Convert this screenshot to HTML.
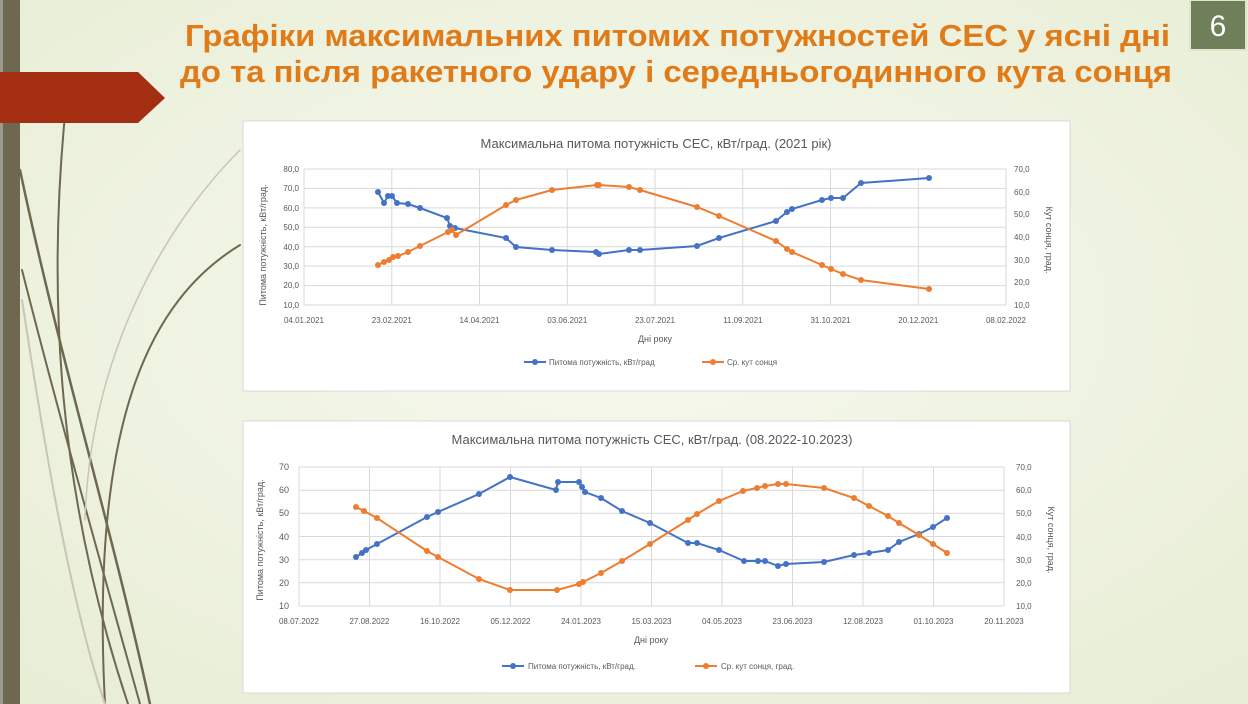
<!DOCTYPE html>
<html><head><meta charset="utf-8"><style>
html,body{margin:0;padding:0;width:1248px;height:704px;overflow:hidden}
svg{display:block}
text{font-family:"Liberation Sans","DejaVu Sans",sans-serif}
</style></head><body>
<svg width="1248" height="704" viewBox="0 0 1248 704" xmlns="http://www.w3.org/2000/svg">
<defs>
<radialGradient id="bg" cx="0.5" cy="0.45" r="0.8">
<stop offset="0" stop-color="#f7f9ee"/><stop offset="1" stop-color="#e6ecd3"/>
</radialGradient>
</defs>
<rect width="1248" height="704" fill="url(#bg)"/>
<rect x="0" y="0" width="3" height="704" fill="#9a9a90"/>
<rect x="3" y="0" width="17" height="704" fill="#6e6850"/>
<g fill="none" stroke-linecap="round">
<path d="M20 170 C60 360 110 520 150 704" stroke="#6e6850" stroke-width="2.5"/>
<path d="M22 270 C60 420 100 560 140 704" stroke="#6e6850" stroke-width="2"/>
<path d="M67 95 C45 300 60 500 128 704" stroke="#6e6850" stroke-width="2"/>
<path d="M240 245 C150 300 90 420 105 704" stroke="#6e6850" stroke-width="2"/>
<path d="M240 150 C160 230 90 360 85 520" stroke="#c8c6b4" stroke-width="1.5"/>
<path d="M22 300 C45 450 70 600 105 704" stroke="#c8c6b4" stroke-width="2"/>
</g>
<path d="M0 72 H138 L165 98 L138 123 H0 Z" fill="#a32e12"/>
<rect x="1190" y="0" width="56" height="50" fill="#6f7f5a" stroke="#dfe6cc" stroke-width="2"/>
<text x="1218" y="36" font-size="30" fill="#fff" text-anchor="middle">6</text>
<text x="185" y="46" font-size="31" font-weight="bold" fill="#e07b1a" textLength="985" lengthAdjust="spacingAndGlyphs">Графіки максимальних питомих потужностей СЕС у ясні дні</text>
<text x="180" y="82" font-size="31" font-weight="bold" fill="#e07b1a" textLength="992" lengthAdjust="spacingAndGlyphs">до та після ракетного удару і середньогодинного кута сонця</text>

<!-- TOP CHART -->
<rect x="243" y="121" width="827" height="270" fill="#fff" stroke="#d8d8d8"/>
<text x="656" y="148" font-size="13" fill="#595959" text-anchor="middle">Максимальна питома потужність СЕС, кВт/град. (2021 рік)</text>
<g stroke="#d9d9d9" stroke-width="1">
<line x1="304" y1="169" x2="1006" y2="169"/><line x1="304" y1="188.4" x2="1006" y2="188.4"/><line x1="304" y1="207.9" x2="1006" y2="207.9"/><line x1="304" y1="227.3" x2="1006" y2="227.3"/><line x1="304" y1="246.7" x2="1006" y2="246.7"/><line x1="304" y1="266.1" x2="1006" y2="266.1"/><line x1="304" y1="285.6" x2="1006" y2="285.6"/><line x1="304" y1="305" x2="1006" y2="305"/>
<line x1="304" y1="169" x2="304" y2="305"/><line x1="391.8" y1="169" x2="391.8" y2="305"/><line x1="479.5" y1="169" x2="479.5" y2="305"/><line x1="567.3" y1="169" x2="567.3" y2="305"/><line x1="655" y1="169" x2="655" y2="305"/><line x1="742.8" y1="169" x2="742.8" y2="305"/><line x1="830.5" y1="169" x2="830.5" y2="305"/><line x1="918.3" y1="169" x2="918.3" y2="305"/><line x1="1006" y1="169" x2="1006" y2="305"/>
</g>
<g font-size="8" fill="#595959" text-anchor="end">
<text x="299" y="172">80,0</text><text x="299" y="191">70,0</text><text x="299" y="211">60,0</text><text x="299" y="230">50,0</text><text x="299" y="250">40,0</text><text x="299" y="269">30,0</text><text x="299" y="288">20,0</text><text x="299" y="308">10,0</text>
</g>
<g font-size="8" fill="#595959">
<text x="1014" y="172">70,0</text><text x="1014" y="195">60,0</text><text x="1014" y="217">50,0</text><text x="1014" y="240">40,0</text><text x="1014" y="263">30,0</text><text x="1014" y="285">20,0</text><text x="1014" y="308">10,0</text>
</g>
<g font-size="8" fill="#595959" text-anchor="middle">
<text x="304" y="323">04.01.2021</text><text x="391.8" y="323">23.02.2021</text><text x="479.5" y="323">14.04.2021</text><text x="567.3" y="323">03.06.2021</text><text x="655" y="323">23.07.2021</text><text x="742.8" y="323">11.09.2021</text><text x="830.5" y="323">31.10.2021</text><text x="918.3" y="323">20.12.2021</text><text x="1006" y="323">08.02.2022</text>
<text x="655" y="342" font-size="9">Дні року</text>
</g>
<text transform="translate(266,245) rotate(-90)" font-size="9" fill="#595959" text-anchor="middle">Питома потужність, кВт/град.</text>
<text transform="translate(1046,240) rotate(90)" font-size="9" fill="#595959" text-anchor="middle">Кут сонця, град.</text>
<polyline fill="none" stroke="#4472c4" stroke-width="2" points="378,192 384,203 388,196 392,196 397,203 408,204 420,208 447,218 450,226 455,228 506,238 516,247 552,250 596,252 599,254 629,250 640,250 697,246 719,238 776,221 787,212 792,209 822,200 831,198 843,198 861,183 929,178"/>
<g fill="#4472c4"><circle cx="378" cy="192" r="3"/><circle cx="384" cy="203" r="3"/><circle cx="388" cy="196" r="3"/><circle cx="392" cy="196" r="3"/><circle cx="397" cy="203" r="3"/><circle cx="408" cy="204" r="3"/><circle cx="420" cy="208" r="3"/><circle cx="447" cy="218" r="3"/><circle cx="450" cy="226" r="3"/><circle cx="455" cy="228" r="3"/><circle cx="506" cy="238" r="3"/><circle cx="516" cy="247" r="3"/><circle cx="552" cy="250" r="3"/><circle cx="596" cy="252" r="3"/><circle cx="599" cy="254" r="3"/><circle cx="629" cy="250" r="3"/><circle cx="640" cy="250" r="3"/><circle cx="697" cy="246" r="3"/><circle cx="719" cy="238" r="3"/><circle cx="776" cy="221" r="3"/><circle cx="787" cy="212" r="3"/><circle cx="792" cy="209" r="3"/><circle cx="822" cy="200" r="3"/><circle cx="831" cy="198" r="3"/><circle cx="843" cy="198" r="3"/><circle cx="861" cy="183" r="3"/><circle cx="929" cy="178" r="3"/></g>
<polyline fill="none" stroke="#ed7d31" stroke-width="2" points="378,265 384,262 389,260 393,257 398,256 408,252 420,246 448,232 452,230 456,235 506,205 516,200 552,190 597,185 599,185 629,187 640,190 697,207 719,216 776,241 787,249 792,252 822,265 831,269 843,274 861,280 929,289"/>
<g fill="#ed7d31"><circle cx="378" cy="265" r="3"/><circle cx="384" cy="262" r="3"/><circle cx="389" cy="260" r="3"/><circle cx="393" cy="257" r="3"/><circle cx="398" cy="256" r="3"/><circle cx="408" cy="252" r="3"/><circle cx="420" cy="246" r="3"/><circle cx="448" cy="232" r="3"/><circle cx="452" cy="230" r="3"/><circle cx="456" cy="235" r="3"/><circle cx="506" cy="205" r="3"/><circle cx="516" cy="200" r="3"/><circle cx="552" cy="190" r="3"/><circle cx="597" cy="185" r="3"/><circle cx="599" cy="185" r="3"/><circle cx="629" cy="187" r="3"/><circle cx="640" cy="190" r="3"/><circle cx="697" cy="207" r="3"/><circle cx="719" cy="216" r="3"/><circle cx="776" cy="241" r="3"/><circle cx="787" cy="249" r="3"/><circle cx="792" cy="252" r="3"/><circle cx="822" cy="265" r="3"/><circle cx="831" cy="269" r="3"/><circle cx="843" cy="274" r="3"/><circle cx="861" cy="280" r="3"/><circle cx="929" cy="289" r="3"/></g>
<line x1="524" y1="362" x2="546" y2="362" stroke="#4472c4" stroke-width="2"/><circle cx="535" cy="362" r="3" fill="#4472c4"/>
<text x="549" y="365" font-size="8" fill="#595959">Питома потужність, кВт/град</text>
<line x1="702" y1="362" x2="724" y2="362" stroke="#ed7d31" stroke-width="2"/><circle cx="713" cy="362" r="3" fill="#ed7d31"/>
<text x="727" y="365" font-size="8" fill="#595959">Ср. кут сонця</text>

<!-- BOTTOM CHART -->
<rect x="243" y="421" width="827" height="272" fill="#fff" stroke="#d8d8d8"/>
<text x="652" y="444" font-size="13" fill="#595959" text-anchor="middle">Максимальна питома потужність СЕС, кВт/град. (08.2022-10.2023)</text>
<g stroke="#d9d9d9" stroke-width="1">
<line x1="299" y1="467" x2="1004" y2="467"/><line x1="299" y1="490.2" x2="1004" y2="490.2"/><line x1="299" y1="513.3" x2="1004" y2="513.3"/><line x1="299" y1="536.5" x2="1004" y2="536.5"/><line x1="299" y1="559.7" x2="1004" y2="559.7"/><line x1="299" y1="582.8" x2="1004" y2="582.8"/><line x1="299" y1="606" x2="1004" y2="606"/>
<line x1="299" y1="467" x2="299" y2="606"/><line x1="369.5" y1="467" x2="369.5" y2="606"/><line x1="440" y1="467" x2="440" y2="606"/><line x1="510.5" y1="467" x2="510.5" y2="606"/><line x1="581" y1="467" x2="581" y2="606"/><line x1="651.5" y1="467" x2="651.5" y2="606"/><line x1="722" y1="467" x2="722" y2="606"/><line x1="792.5" y1="467" x2="792.5" y2="606"/><line x1="863" y1="467" x2="863" y2="606"/><line x1="933.5" y1="467" x2="933.5" y2="606"/><line x1="1004" y1="467" x2="1004" y2="606"/>
</g>
<g font-size="9" fill="#595959" text-anchor="end">
<text x="289" y="470">70</text><text x="289" y="493">60</text><text x="289" y="516">50</text><text x="289" y="540">40</text><text x="289" y="563">30</text><text x="289" y="586">20</text><text x="289" y="609">10</text>
</g>
<g font-size="8" fill="#595959">
<text x="1016" y="470">70,0</text><text x="1016" y="493">60,0</text><text x="1016" y="516">50,0</text><text x="1016" y="540">40,0</text><text x="1016" y="563">30,0</text><text x="1016" y="586">20,0</text><text x="1016" y="609">10,0</text>
</g>
<g font-size="8" fill="#595959" text-anchor="middle">
<text x="299" y="624">08.07.2022</text><text x="369.5" y="624">27.08.2022</text><text x="440" y="624">16.10.2022</text><text x="510.5" y="624">05.12.2022</text><text x="581" y="624">24.01.2023</text><text x="651.5" y="624">15.03.2023</text><text x="722" y="624">04.05.2023</text><text x="792.5" y="624">23.06.2023</text><text x="863" y="624">12.08.2023</text><text x="933.5" y="624">01.10.2023</text><text x="1004" y="624">20.11.2023</text>
<text x="651" y="643" font-size="9">Дні року</text>
</g>
<text transform="translate(263,540) rotate(-90)" font-size="9" fill="#595959" text-anchor="middle">Питома потужність, кВт/град.</text>
<text transform="translate(1048,540) rotate(90)" font-size="9" fill="#595959" text-anchor="middle">Кут сонця, град.</text>
<polyline fill="none" stroke="#4472c4" stroke-width="2" points="356,557 362,553 366,550 377,544 427,517 438,512 479,494 510,477 556,490 558,482 579,482 582,487 585,492 601,498 622,511 650,523 688,543 697,543 719,550 744,561 758,561 765,561 778,566 786,564 824,562 854,555 869,553 888,550 899,542 919,534 933,527 947,518"/>
<g fill="#4472c4"><circle cx="356" cy="557" r="3"/><circle cx="362" cy="553" r="3"/><circle cx="366" cy="550" r="3"/><circle cx="377" cy="544" r="3"/><circle cx="427" cy="517" r="3"/><circle cx="438" cy="512" r="3"/><circle cx="479" cy="494" r="3"/><circle cx="510" cy="477" r="3"/><circle cx="556" cy="490" r="3"/><circle cx="558" cy="482" r="3"/><circle cx="579" cy="482" r="3"/><circle cx="582" cy="487" r="3"/><circle cx="585" cy="492" r="3"/><circle cx="601" cy="498" r="3"/><circle cx="622" cy="511" r="3"/><circle cx="650" cy="523" r="3"/><circle cx="688" cy="543" r="3"/><circle cx="697" cy="543" r="3"/><circle cx="719" cy="550" r="3"/><circle cx="744" cy="561" r="3"/><circle cx="758" cy="561" r="3"/><circle cx="765" cy="561" r="3"/><circle cx="778" cy="566" r="3"/><circle cx="786" cy="564" r="3"/><circle cx="824" cy="562" r="3"/><circle cx="854" cy="555" r="3"/><circle cx="869" cy="553" r="3"/><circle cx="888" cy="550" r="3"/><circle cx="899" cy="542" r="3"/><circle cx="919" cy="534" r="3"/><circle cx="933" cy="527" r="3"/><circle cx="947" cy="518" r="3"/></g>
<polyline fill="none" stroke="#ed7d31" stroke-width="2" points="356,507 364,511 377,518 427,551 438,557 479,579 510,590 557,590 579,584 583,582 601,573 622,561 650,544 688,520 697,514 719,501 743,491 757,488 765,486 778,484 786,484 824,488 854,498 869,506 888,516 899,523 919,535 933,544 947,553"/>
<g fill="#ed7d31"><circle cx="356" cy="507" r="3"/><circle cx="364" cy="511" r="3"/><circle cx="377" cy="518" r="3"/><circle cx="427" cy="551" r="3"/><circle cx="438" cy="557" r="3"/><circle cx="479" cy="579" r="3"/><circle cx="510" cy="590" r="3"/><circle cx="557" cy="590" r="3"/><circle cx="579" cy="584" r="3"/><circle cx="583" cy="582" r="3"/><circle cx="601" cy="573" r="3"/><circle cx="622" cy="561" r="3"/><circle cx="650" cy="544" r="3"/><circle cx="688" cy="520" r="3"/><circle cx="697" cy="514" r="3"/><circle cx="719" cy="501" r="3"/><circle cx="743" cy="491" r="3"/><circle cx="757" cy="488" r="3"/><circle cx="765" cy="486" r="3"/><circle cx="778" cy="484" r="3"/><circle cx="786" cy="484" r="3"/><circle cx="824" cy="488" r="3"/><circle cx="854" cy="498" r="3"/><circle cx="869" cy="506" r="3"/><circle cx="888" cy="516" r="3"/><circle cx="899" cy="523" r="3"/><circle cx="919" cy="535" r="3"/><circle cx="933" cy="544" r="3"/><circle cx="947" cy="553" r="3"/></g>
<line x1="502" y1="666" x2="524" y2="666" stroke="#4472c4" stroke-width="2"/><circle cx="513" cy="666" r="3" fill="#4472c4"/>
<text x="528" y="669" font-size="8" fill="#595959">Питома потужність, кВт/град.</text>
<line x1="695" y1="666" x2="717" y2="666" stroke="#ed7d31" stroke-width="2"/><circle cx="706" cy="666" r="3" fill="#ed7d31"/>
<text x="721" y="669" font-size="8" fill="#595959">Ср. кут сонця, град.</text>
</svg>
</body></html>
